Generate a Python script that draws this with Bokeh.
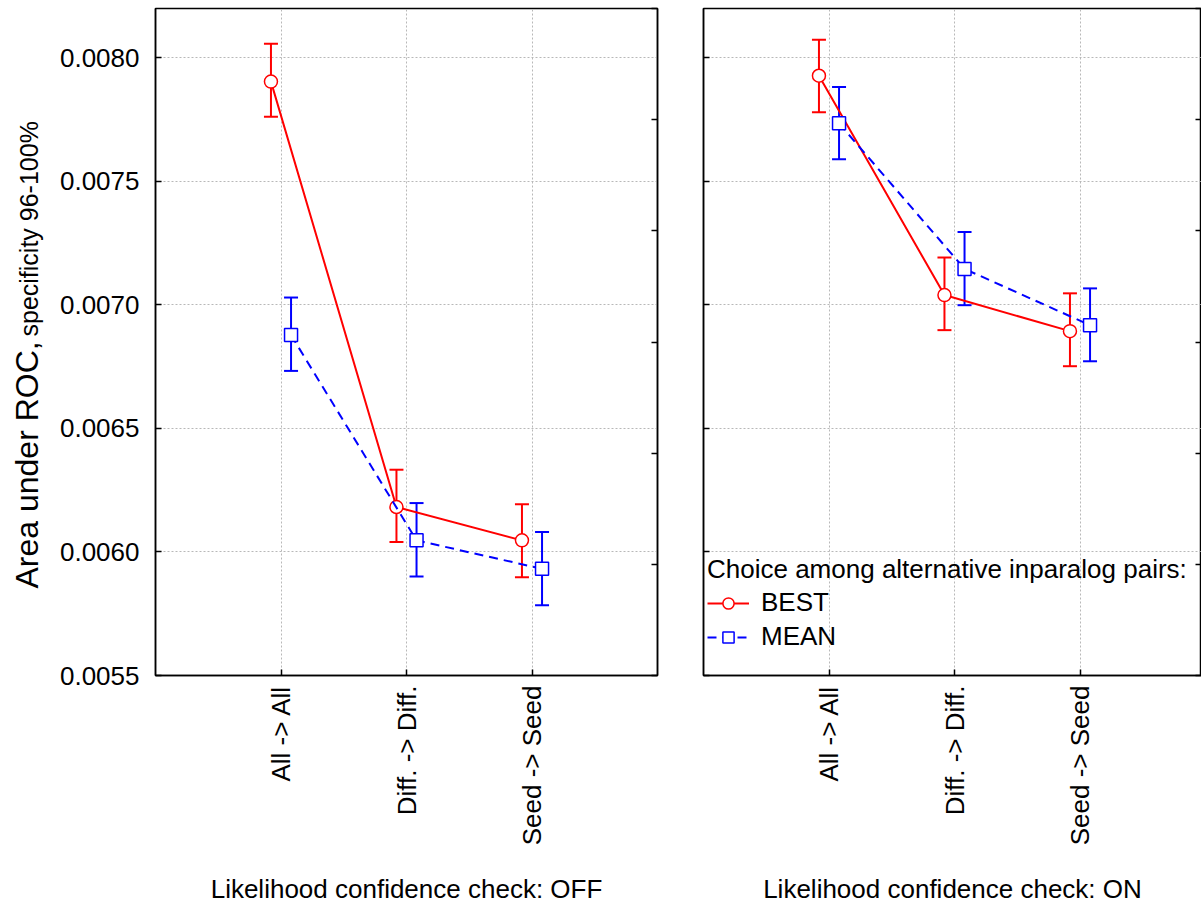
import numpy as np
from bokeh.plotting import figure
from bokeh.models import (ColumnDataSource, Whisker, TeeHead, LinearAxis, FixedTicker,
                          Legend, LegendItem, Label, Range1d)
from bokeh.layouts import row
from bokeh.embed import file_html
from bokeh.resources import INLINE

# ---------------- data ----------------
categories = ["All -> All", "Diff. -> Diff.", "Seed -> Seed"]
panel_titles = ["Likelihood confidence check: OFF", "Likelihood confidence check: ON"]
series_names = ["BEST", "MEAN"]
legend_title = "Choice among alternative inparalog pairs:"
y_label_main = "Area under ROC,"
y_label_sub = "specificity 96-100%"

y_ticks = [0.0055, 0.0060, 0.0065, 0.0070, 0.0075, 0.0080]
y_tick_labels = ["0.0055", "0.0060", "0.0065", "0.0070", "0.0075", "0.0080"]
y_min, y_max = 0.0055, 0.0082

# Panel OFF
best_off = [0.007904, 0.006182, 0.006047]
best_off_lo = [0.007762, 0.006040, 0.005898]
best_off_hi = [0.008057, 0.006333, 0.006193]
mean_off = [0.006878, 0.006047, 0.005932]
mean_off_lo = [0.006733, 0.005901, 0.005784]
mean_off_hi = [0.007030, 0.006198, 0.006081]

# Panel ON
best_on = [0.007928, 0.007040, 0.006894]
best_on_lo = [0.007780, 0.006898, 0.006752]
best_on_hi = [0.008073, 0.007192, 0.007047]
mean_on = [0.007735, 0.007146, 0.006918]
mean_on_lo = [0.007590, 0.006999, 0.006772]
mean_on_hi = [0.007882, 0.007295, 0.007067]

FONT = "Liberation Sans"
RED = "#ff0000"
BLUE = "#0000ff"


def hide_labels(ax):
    ax.major_label_text_color = None
    ax.major_label_text_font_size = "1px"
    ax.major_label_standoff = 0


def make_panel(idx, best, best_lo, best_hi, mean, mean_lo, mean_hi):
    first = idx == 0
    fw = 502 if first else 498
    p = figure(x_range=Range1d(0, fw / 125.5), y_range=Range1d(y_min, y_max),
               frame_width=fw, frame_height=667,
               min_border_left=105 if first else 23, min_border_right=23 if first else 0,
               min_border_top=8, min_border_bottom=228,
               output_backend="svg", toolbar_location=None,
               background_fill_color="white", border_fill_color="white",
               outline_line_color="black", outline_line_width=1.5)

    cat_pos = [i + 1 for i in range(len(categories))]
    # x axis
    xa = p.xaxis[0]
    xa.ticker = FixedTicker(ticks=cat_pos)
    xa.major_label_overrides = {c: lab for c, lab in zip(cat_pos, categories)}
    xa.major_label_orientation = np.pi / 2
    xa.major_label_text_font = FONT
    xa.major_label_text_font_size = "26px"
    xa.major_label_text_color = "black"
    xa.major_label_standoff = 10
    xa.major_tick_in = 6
    xa.major_tick_out = 0
    xa.minor_tick_line_color = None
    xa.axis_line_color = "black"
    xa.axis_line_width = 1.5
    xa.major_tick_line_width = 1.5
    xa.axis_label = panel_titles[idx]
    xa.axis_label_text_font = FONT
    xa.axis_label_text_font_size = "26px"
    xa.axis_label_text_font_style = "normal"
    xa.axis_label_text_color = "black"
    xa.axis_label_standoff = 26

    # y axis
    ya = p.yaxis[0]
    ya.ticker = FixedTicker(ticks=y_ticks)
    ya.major_tick_in = 6
    ya.major_tick_out = 0
    ya.minor_tick_line_color = None
    ya.axis_line_color = "black"
    ya.axis_line_width = 1.5
    ya.major_tick_line_width = 1.5
    if first:
        ya.major_label_overrides = {t: s for t, s in zip(y_ticks, y_tick_labels)}
        ya.major_label_text_font = FONT
        ya.major_label_text_font_size = "26px"
        ya.major_label_text_color = "black"
        ya.major_label_standoff = 16
    else:
        hide_labels(ya)

    # secondary right axis (unlabelled, 6 equal divisions)
    ra = LinearAxis(ticker=FixedTicker(ticks=list(np.linspace(y_min, y_max, 7))),
                    major_tick_in=6, major_tick_out=0, minor_tick_line_color=None,
                    axis_line_color="black", axis_line_width=1.5, major_tick_line_width=1.5)
    hide_labels(ra)
    p.add_layout(ra, "right")

    # grids
    for g in (p.xgrid[0], p.ygrid[0]):
        g.grid_line_color = "#b8b8b8"
        g.grid_line_dash = "2 2"
        g.grid_line_width = 1

    series = [
        (series_names[0], best, best_lo, best_hi, RED, "solid", "circle", -0.08),
        (series_names[1], mean, mean_lo, mean_hi, BLUE, "9 6", "square", 0.08),
    ]
    items = []
    for name, vals, lo, hi, color, dash, marker, off in series:
        xs = [c + off for c in cat_pos]
        src = ColumnDataSource(dict(x=xs, y=vals, lo=lo, hi=hi))
        w = Whisker(base="x", upper="hi", lower="lo", source=src,
                    line_color=color, line_width=2,
                    upper_head=TeeHead(size=14, line_color=color, line_width=2),
                    lower_head=TeeHead(size=14, line_color=color, line_width=2))
        p.add_layout(w)
        lr = p.line("x", "y", source=src, line_color=color, line_width=2, line_dash=dash)
        sr = p.scatter("x", "y", source=src, marker=marker, size=13, fill_color="white",
                       line_color=color, line_width=1.5)
        items.append(LegendItem(label=name, renderers=[lr, sr]))

    if not first:
        leg = Legend(items=items, title=legend_title, location=(4, 23),
                     title_text_font=FONT, title_text_font_size="26px",
                     title_text_font_style="normal", title_text_color="black",
                     title_standoff=2,
                     label_text_font=FONT, label_text_font_size="26px",
                     label_text_color="black",
                     background_fill_alpha=0, border_line_color=None,
                     padding=0, margin=0, spacing=3, glyph_width=42, glyph_height=28,
                     label_height=28, label_standoff=12)
        p.add_layout(leg)
    return p


# narrow figure carrying the two-size y axis title (frame aligned with the panels)
pl = figure(frame_width=50, frame_height=667, min_border_left=0, min_border_right=0,
            min_border_top=8, min_border_bottom=228,
            x_axis_type=None, y_axis_type=None,
            outline_line_color=None, toolbar_location=None, output_backend="svg",
            x_range=Range1d(0, 1), y_range=Range1d(0, 1),
            background_fill_color="white", border_fill_color="white")
pl.add_layout(Label(x=26, y=87, x_units="screen", y_units="screen",
                    text=y_label_main, angle=np.pi / 2, text_font=FONT,
                    text_font_size="32px", text_align="left",
                    text_baseline="alphabetic", text_color="black"))
pl.add_layout(Label(x=28, y=339, x_units="screen", y_units="screen",
                    text=y_label_sub, angle=np.pi / 2, text_font=FONT,
                    text_font_size="25px", text_align="left",
                    text_baseline="alphabetic", text_color="black"))

p1 = make_panel(0, best_off, best_off_lo, best_off_hi, mean_off, mean_off_lo, mean_off_hi)
p2 = make_panel(1, best_on, best_on_lo, best_on_hi, mean_on, mean_on_lo, mean_on_hi)
layout = row(pl, p1, p2)

open("out.html", "w").write(file_html(layout, INLINE))
